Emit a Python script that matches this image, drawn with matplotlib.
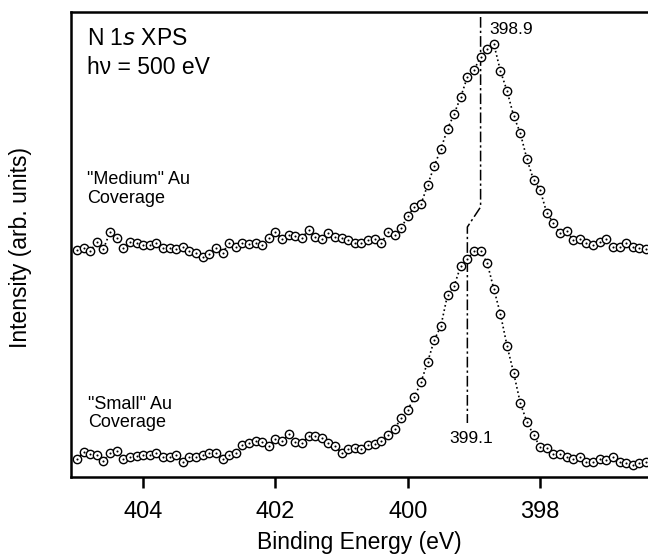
import matplotlib
matplotlib.use("Agg")
import matplotlib.pyplot as plt
import numpy as np

plt.rcParams['font.family'] = ['Liberation Sans', 'DejaVu Sans']

# binding energy grid of the scans, 0.1 eV steps from 405.0 down to 396.4 eV
energy = np.round(np.arange(405.0, 396.35, -0.1), 1)

# "Medium" Au coverage (upper trace, offset included), arb. units
medium = [227, 229, 226, 235, 228, 245, 239, 229, 235, 234, 232, 232, 234, 229, 229,
          228, 230, 226, 224, 220, 223, 229, 224, 234, 230, 234, 233, 234, 232, 239,
          245, 238, 242, 241, 239, 247, 240, 238, 244, 240, 239, 237, 234,
          234, 237, 238, 234, 245, 242, 249, 261, 270, 273, 292, 311, 328, 348, 363,
          380, 400, 407, 420, 428, 433, 406, 386, 361, 344, 318, 297, 287, 264, 254,
          244, 246, 237, 238, 234, 232, 235, 238, 230, 230, 234, 230, 229, 228]

# "Small" Au coverage (lower trace), arb. units
small = [18, 25, 23, 22, 16, 24, 26, 18, 20, 21, 22, 22, 24, 20, 20, 22, 15, 20, 20,
         22, 24, 24, 18, 22, 24, 32, 34, 36, 35, 31, 38, 36, 43, 35, 34, 41, 41, 39,
         34, 31, 24, 28, 29,
         28, 32, 33, 36, 42, 48, 59, 67, 80, 95, 115, 137, 151, 182, 191, 211, 218,
         226, 226, 214, 188, 163, 131, 104, 74, 55, 42, 30, 29, 23, 23, 20, 18, 20,
         15, 15, 18, 17, 20, 15, 14, 12, 14, 15]

peak_medium = 398.9
peak_small = 399.1

fig = plt.figure(figsize=(6.48, 5.54), dpi=100)
ax = fig.add_axes([71 / 648, 1 - 477 / 554, 577 / 648, 465 / 554])

for trace in (medium, small):
    ax.plot(energy, trace, ls=':', color='k', lw=1.2, zorder=2)
    ax.plot(energy, trace, 'o', ms=6, mfc='white', mec='k', mew=1.0, zorder=3)
    ax.plot(energy, trace, 'o', ms=1.5, mfc='k', mec='k', mew=0, zorder=4)

# peak position markers (dash-dot)
ax.plot([peak_medium, peak_medium, peak_small, peak_small], [460, 270, 250, 54],
        color='k', lw=1.1, dashes=(7, 2, 1.5, 2), zorder=1)
ax.text(398.76, 443, "398.9", fontsize=12.5, ha='left', va='baseline')
ax.text(399.04, 34, "399.1", fontsize=12.5, ha='center', va='baseline')

ax.text(0.028, 0.929, "N 1$\\it{s}$ XPS", transform=ax.transAxes, fontsize=16.5,
        ha='left', va='baseline')
ax.text(0.028, 0.867, "h\u03bd = 500 eV", transform=ax.transAxes, fontsize=16.5,
        ha='left', va='baseline')
ax.text(0.028, 0.657, "\"Medium\" Au\nCoverage", transform=ax.transAxes, fontsize=13,
        ha='left', va='top', linespacing=1.1)
ax.text(0.030, 0.174, "\"Small\" Au\nCoverage", transform=ax.transAxes, fontsize=13,
        ha='left', va='top', linespacing=1.1)

ax.set_xlim(405.09, 396.37)
ax.set_ylim(0, 465)
ax.set_yticks([])
ax.set_xticks([404, 402, 400, 398])
ax.tick_params(axis='x', direction='out', length=8, width=1.8, labelsize=17, pad=9)
ax.spines['right'].set_visible(False)
for s in ('left', 'bottom', 'top'):
    ax.spines[s].set_linewidth(1.8)

fig.text(359.5 / 648, 1 - 542 / 554, "Binding Energy (eV)", fontsize=16.5,
         ha='center', va='center')
fig.text(21 / 648, 1 - 247 / 554, "Intensity (arb. units)", fontsize=16.5,
         ha='center', va='center', rotation=90)

fig.savefig("out.png", dpi=100)
